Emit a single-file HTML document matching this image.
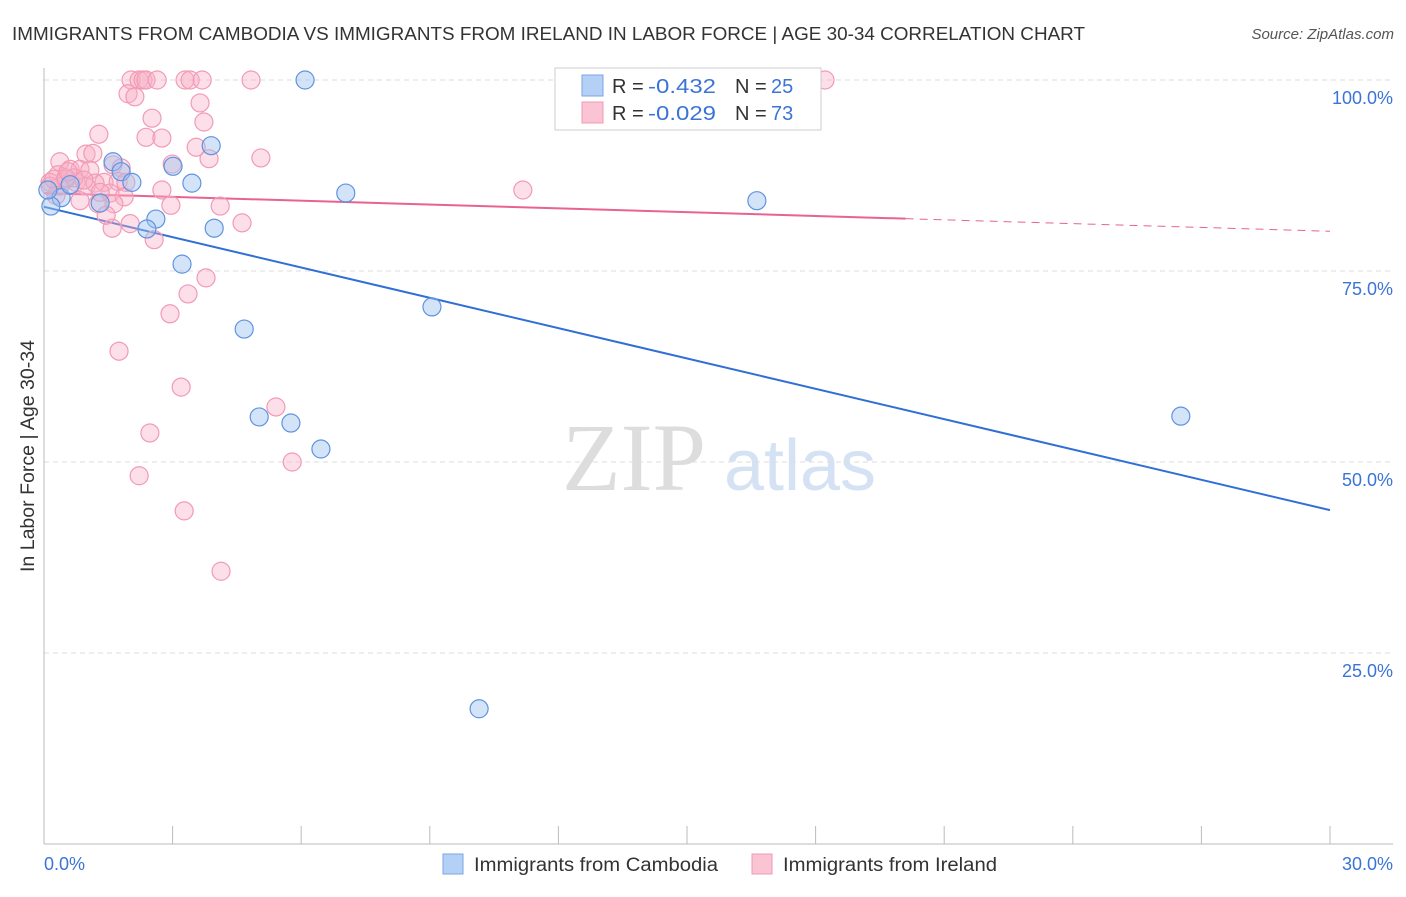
<!DOCTYPE html>
<html><head><meta charset="utf-8"><style>
body{margin:0;background:#fff;width:1406px;height:892px;overflow:hidden;font-family:"Liberation Sans",sans-serif}
</style></head><body>
<svg id="chart" width="1406" height="892" xmlns="http://www.w3.org/2000/svg" font-family="Liberation Sans, sans-serif">
<text x="12" y="40" font-size="18.5" fill="#333" textLength="1073" lengthAdjust="spacingAndGlyphs">IMMIGRANTS FROM CAMBODIA VS IMMIGRANTS FROM IRELAND IN LABOR FORCE | AGE 30-34 CORRELATION CHART</text>
<text x="1394" y="39" font-size="15" fill="#555" font-style="italic" text-anchor="end">Source: ZipAtlas.com</text>
<g>
<text x="634" y="490" font-family="Liberation Serif, serif" font-size="96" fill="#ddd" text-anchor="middle">ZIP</text>
<text x="800" y="490" font-size="72" fill="#d4e2f4" text-anchor="middle">atlas</text>
</g>
<g id="grid"></g>
<g id="axes"></g>
<g id="lines"></g>
<g id="pts"></g>
<text transform="translate(34,456) rotate(-90)" font-size="19" fill="#333" text-anchor="middle" textLength="232" lengthAdjust="spacingAndGlyphs">In Labor Force | Age 30-34</text>
<g>
<rect x="555" y="68" width="266" height="62" fill="#fff" stroke="#ccc"/>
<rect x="582" y="75" width="21" height="21" fill="#b5d0f5" stroke="#7aa6e8"/>
<rect x="582" y="102" width="21" height="21" fill="#fac4d4" stroke="#f09ab5"/>
<text x="612" y="93" font-size="20" fill="#333">R =</text>
<text x="648" y="93" font-size="20" fill="#3b74d6" textLength="68" lengthAdjust="spacingAndGlyphs">-0.432</text>
<text x="735" y="93" font-size="20" fill="#333">N =</text>
<text x="771" y="93" font-size="20" fill="#3b74d6">25</text>
<text x="612" y="120" font-size="20" fill="#333">R =</text>
<text x="648" y="120" font-size="20" fill="#3b74d6" textLength="68" lengthAdjust="spacingAndGlyphs">-0.029</text>
<text x="735" y="120" font-size="20" fill="#333">N =</text>
<text x="771" y="120" font-size="20" fill="#3b74d6">73</text>
</g>
<g>
<rect x="443" y="854" width="20" height="20" fill="#b5d0f5" stroke="#7aa6e8"/>
<text x="474" y="871" font-size="19" fill="#333" textLength="244" lengthAdjust="spacingAndGlyphs">Immigrants from Cambodia</text></g>
<g>
<rect x="752" y="854" width="20" height="20" fill="#fac4d4" stroke="#f09ab5"/>
<text x="783" y="871" font-size="19" fill="#333" textLength="214" lengthAdjust="spacingAndGlyphs">Immigrants from Ireland</text></g>
</svg>
<script>
const yTicks=[100,75,50,25];
const yTickLabels=["100.0%","75.0%","50.0%","25.0%"];
const xTickLabels=["0.0%","30.0%"];
const cambodiaX=[6.09,3.90,1.61,3.01,1.80,2.05,3.45,7.04,16.63,0.40,1.31,0.16,2.61,2.40,3.97,3.22,9.05,4.67,5.02,5.76,6.46,26.52,10.15,0.09,0.61];
const cambodiaY=[100,91.4,89.3,88.7,88.0,86.6,86.5,85.2,84.2,84.6,83.9,83.5,81.8,80.5,80.6,75.9,70.3,67.4,55.9,55.1,51.7,56.0,17.7,85.6,86.3];
const irelandX=[2.03,2.22,2.31,2.38,2.64,3.29,3.41,3.69,4.83,18.22,1.96,2.12,3.64,2.52,3.73,1.28,2.38,2.75,2.99,3.85,5.06,3.55,0.98,0.37,1.14,0.61,0.84,1.61,1.80,1.07,0.33,0.14,0.51,0.75,1.40,1.73,1.91,0.98,0.37,1.54,1.87,0.84,1.63,1.26,2.75,2.96,4.11,11.17,1.59,2.01,4.62,2.57,1.45,3.36,3.78,2.94,1.75,3.20,5.41,2.47,5.79,2.22,3.27,4.13,0.14,0.23,0.70,1.19,0.51,1.31,0.28,0.56,0.93];
const irelandY=[100,100,100,100,100,100,100,100,100,100,98.2,97.8,97.0,95.0,94.5,92.9,92.5,92.4,89.0,89.7,89.8,91.2,90.3,89.3,90.4,88.3,88.3,88.9,88.5,88.2,87.6,86.6,87.0,86.6,86.6,86.7,86.6,86.1,86.1,85.2,84.7,84.2,83.8,83.8,85.6,83.6,83.5,85.6,80.6,81.2,81.3,79.1,82.3,72.0,74.1,69.4,64.5,59.8,57.2,53.8,50.0,48.2,43.6,35.7,86.1,87.0,87.2,86.5,87.2,85.3,84.9,88.0,86.9];
const cambodiaTrend=[83.4,43.7];
const irelandTrend=[85.2,80.2];
const irelandSolidEnd=20.1;

const NS="http://www.w3.org/2000/svg";
const X0=44,X1=1330,Y0=844,Y100=80;
const sx=v=>X0+(X1-X0)*v/30;
const sy=v=>Y0-(Y0-Y100)*v/100;
function mk(tag,attrs,parent){const e=document.createElementNS(NS,tag);for(const k in attrs)e.setAttribute(k,attrs[k]);parent.appendChild(e);return e;}
const grid=document.getElementById('grid'),axes=document.getElementById('axes'),lines=document.getElementById('lines'),pts=document.getElementById('pts');
yTicks.forEach((t,i)=>{
 const g=mk('line',{x1:X0,x2:1393,y1:sy(t),y2:sy(t),stroke:'#ddd','stroke-dasharray':'5,4'},grid);
 
 
 const l=mk('text',{x:1393,y:sy(t)+24,'font-size':18,fill:'#3b74d6','text-anchor':'end'},axes);
 l.textContent=yTickLabels[i];
 
 
});
const ya=mk('line',{x1:X0,x2:X0,y1:68,y2:Y0,stroke:'#bbb'},axes);


const xa=mk('line',{x1:X0,x2:1393,y1:Y0,y2:Y0,stroke:'#bbb'},axes);


for(let i=0;i<=10;i++){
 const t=mk('line',{x1:sx(i*3),x2:sx(i*3),y1:826,y2:Y0,stroke:'#bbb'},axes);
 
 
}
const xl0=mk('text',{x:44,y:870,'font-size':18,fill:'#3b74d6'},axes);xl0.textContent=xTickLabels[0];


const xl1=mk('text',{x:1393,y:870,'font-size':18,fill:'#3b74d6','text-anchor':'end'},axes);xl1.textContent=xTickLabels[1];


irelandX.forEach((x,i)=>{
 const c=mk('circle',{cx:sx(x),cy:sy(irelandY[i]),r:9,fill:'rgba(248,176,198,0.4)',stroke:'#f29ab6','stroke-width':1.2},pts);
 
 
});
cambodiaX.forEach((x,i)=>{
 const c=mk('circle',{cx:sx(x),cy:sy(cambodiaY[i]),r:9,fill:'rgba(160,196,240,0.45)',stroke:'#5f93e0','stroke-width':1.2},pts);
 
 
});
const bt=mk('line',{x1:sx(0),y1:sy(cambodiaTrend[0]),x2:sx(30),y2:sy(cambodiaTrend[1]),stroke:'#2f6fd6','stroke-width':2},lines);


const pyAt=x=>irelandTrend[0]+(irelandTrend[1]-irelandTrend[0])*x/30;
const pt=mk('line',{x1:sx(0),y1:sy(irelandTrend[0]),x2:sx(irelandSolidEnd),y2:sy(pyAt(irelandSolidEnd)),stroke:'#e8638f','stroke-width':2},lines);


const pd=mk('line',{x1:sx(irelandSolidEnd),y1:sy(pyAt(irelandSolidEnd)),x2:sx(30),y2:sy(irelandTrend[1]),stroke:'#e8638f','stroke-width':1,'stroke-dasharray':'8,6'},lines);


</script>
</body></html>
